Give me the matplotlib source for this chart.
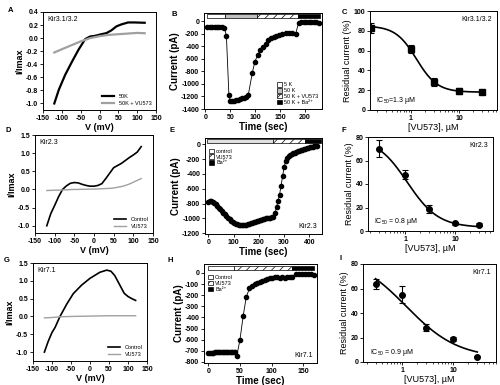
import matplotlib
matplotlib.use("Agg")
import matplotlib.pyplot as plt
import numpy as np
from matplotlib.patches import Patch

plt.rcParams["font.family"] = ["Liberation Sans", "DejaVu Sans"]
plt.rcParams["mathtext.default"] = "regular"
plt.rcParams["axes.unicode_minus"] = False
plt.rcParams["hatch.linewidth"] = 0.5

# ---- I/V curves ----
v_a = [-120, -108, -91, -73, -56, -38, -25, -12, 5, 18, 31, 45, 58, 76, 93, 120]
a_50k = [-1.0, -0.79, -0.56, -0.36, -0.18, -0.015, 0.025, 0.035, 0.06, 0.076, 0.117, 0.18, 0.21, 0.24, 0.24, 0.235]
v_a2 = [-120, -100, -75, -50, -25, 0, 25, 50, 75, 100, 120]
a_vu = [-0.22, -0.17, -0.11, -0.05, 0.0, 0.03, 0.05, 0.06, 0.07, 0.08, 0.075]

v_d = [-120, -110, -100, -90, -80, -70, -60, -50, -40, -30, -20, -10, 0, 10, 20, 30, 40, 50, 60, 70, 80, 90, 100, 110, 120]
d_ctrl = [-1.0, -0.67, -0.44, -0.2, 0.0, 0.1, 0.17, 0.19, 0.18, 0.14, 0.11, 0.09, 0.09, 0.11, 0.16, 0.3, 0.45, 0.6, 0.66, 0.72, 0.8, 0.88, 0.95, 1.03, 1.18]
d_vu = [-0.03, -0.025, -0.02, -0.02, -0.015, -0.01, -0.005, 0.0, 0.0, 0.005, 0.005, 0.01, 0.01, 0.015, 0.02, 0.025, 0.03, 0.04, 0.06, 0.08, 0.11, 0.15, 0.2, 0.25, 0.3]

v_g = [-120, -110, -100, -92, -79, -61, -44, -22, 0, 26, 44, 55, 65, 80, 90, 100, 110, 120]
g_ctrl = [-1.0, -0.7, -0.45, -0.31, 0.0, 0.35, 0.64, 0.88, 1.07, 1.24, 1.3, 1.27, 1.15, 0.85, 0.65, 0.56, 0.5, 0.45]
v_g2 = [-120, -100, -80, -50, 0, 50, 120]
g_vu = [-0.04, -0.03, -0.01, 0.0, 0.01, 0.02, 0.02]

# ---- time courses ----
t_b = [4, 9, 14, 19, 24, 28, 34, 38, 42, 47, 50, 54, 58, 62, 66, 70, 74, 78, 82, 86, 94, 99, 105, 110, 115,
       121, 126, 132, 137, 142, 148, 154, 161, 168, 174, 181, 187, 192, 197, 202, 207, 212, 217, 222, 227]
i_b = [-90, -90, -95, -95, -100, -100, -95, -105, -235, -1180, -1270, -1275, -1265, -1260, -1250, -1240, -1230,
       -1220, -1205, -1175, -825, -650, -535, -465, -410, -360, -305, -270, -255, -235, -215, -200, -195, -190,
       -190, -205, -25, -20, -15, -10, -10, -10, -15, -20, -22]
bars_b = [3, 39, 103, 185, 230]

t_e = list(range(0, 433, 6))
i_e = [-780, -765, -760, -775, -790, -810, -830, -855, -875, -900, -925, -945, -970, -990, -1010, -1030, -1045,
       -1060, -1070, -1080, -1088, -1092, -1095, -1092, -1088, -1085, -1080, -1072, -1065, -1058, -1050, -1042,
       -1035, -1028, -1022, -1015, -1010, -1005, -1000, -998, -993, -988, -982, -975, -930, -850, -760, -680,
       -560, -430, -310, -230, -185, -160, -145, -132, -122, -112, -103, -95, -88, -82, -75, -68, -60, -53, -47,
       -40, -35, -30, -27, -24, -22]
bars_e = [-7, 257, 383, 445]

t_h = [0, 2.5, 5, 7.5, 10, 12.5, 15, 17.5, 20, 22.5, 25, 27.5, 30, 32.5, 35, 37.5, 40, 42.5, 45, 50, 55, 60, 65,
       69, 73, 77, 81, 85, 89, 93, 97, 101, 105, 109, 113, 117, 121, 125, 129, 133, 138, 143, 148, 153, 158, 163, 168]
i_h = [-718, -718, -717, -716, -715, -714, -713, -712, -711, -710, -710, -709, -709, -708, -708, -708, -709, -710,
       -745, -600, -390, -215, -140, -115, -100, -88, -78, -70, -62, -55, -48, -43, -40, -40, -45, -40, -42, -40,
       -40, -38, -10, -10, -12, -12, -12, -13, -15]
bars_h = [-1, 41, 133, 167]

# ---- dose response ----
conc_c = [0.15, 1, 3, 10, 30]
res_c = [83, 62, 28, 19.5, 18.5]
err_c = [5, 4, 4, 3, 1.5]
fit_c = dict(top=85, bottom=18, ic50=1.3, n=2.0)

conc_f = [0.3, 1, 3, 10, 30]
res_f = [70, 48, 19, 6.5, 5.5]
err_f = [7.4, 4, 3.5, 1, 1]
fit_f = dict(top=80, bottom=3, ic50=1.1, n=1.4)

conc_i = [0.3, 1, 3, 10, 30]
res_i = [64, 55, 28, 18.6, 4.4]
err_i = [4, 7, 3, 1.5, 0.5]
fit_i = dict(top=88, bottom=3, ic50=1.2, n=0.85)

W, H = 500, 385
fig = plt.figure(figsize=(W / 100, H / 100), dpi=100)


def make_ax(l, r, t, b):
    ax = fig.add_axes([l / W, 1 - b / H, (r - l) / W, (b - t) / H])
    ax.tick_params(labelsize=5, length=2, width=0.6, pad=1.5)
    for s in ax.spines.values():
        s.set_linewidth(0.7)
    return ax


def bold_ticks(ax):
    for lab in ax.get_xticklabels() + ax.get_yticklabels():
        lab.set_fontweight("bold")


def panel_letter(x, y, s):
    fig.text(x / W, 1 - y / H, s, fontsize=5.5, fontweight="bold", ha="left", va="center")


def iv_panel(ax, v1, y1, v2, y2, labels, name, ylim, yticks, lw1, lw2):
    ax.plot(v1, y1, color="black", lw=lw1, label=labels[0])
    ax.plot(v2, y2, color="#a0a0a0", lw=lw2, label=labels[1])
    ax.set_xlim(-150, 150)
    ax.set_xticks([-150, -100, -50, 0, 50, 100, 150])
    ax.set_ylim(*ylim)
    ax.set_yticks(yticks)
    ax.yaxis.set_major_formatter(matplotlib.ticker.FormatStrFormatter("%.1f"))
    ax.set_xlabel("V (mV)", fontsize=6.5, fontweight="bold", labelpad=0.5)
    ax.set_ylabel("I/Imax", fontsize=6.5, fontweight="bold", labelpad=1)
    ax.text(0.04, 0.96, name, transform=ax.transAxes, fontsize=5, va="top")
    ax.legend(loc="lower right", fontsize=4, frameon=False, handlelength=2.2, borderpad=0.3,
              labelspacing=0.3)
    bold_ticks(ax)


def time_bars(ax, edges, styles, y0, y1):
    for k, st in enumerate(styles):
        ax.axvspan(edges[k], edges[k + 1], ymin=y0, ymax=y1, lw=0.5, edgecolor="black", **st)


def time_panel(ax, t, cur, xlim, ylim, yticks, xticks):
    ax.plot(t, cur, color="black", lw=0.6, marker="o", ms=3, mec="black", mfc="black")
    ax.set_xlim(*xlim)
    ax.set_ylim(*ylim)
    ax.set_yticks(yticks)
    ax.set_xticks(xticks)
    ax.set_xlabel("Time (sec)", fontsize=7, fontweight="bold", labelpad=0.5)
    ax.set_ylabel("Current (pA)", fontsize=7, fontweight="bold", labelpad=1)
    bold_ticks(ax)


def hill(x, p):
    return p["bottom"] + (p["top"] - p["bottom"]) / (1 + (x / p["ic50"]) ** p["n"])


def dose_panel(ax, conc, res, err, fit, marker, xlim, ylim, yticks, name, ic_text):
    xs = np.logspace(np.log10(conc[0]), np.log10(conc[-1]), 200)
    ax.plot(xs, hill(xs, fit), color="black", lw=1.2)
    ax.errorbar(conc, res, yerr=err, fmt=marker, color="black", ms=4, capsize=2.5, elinewidth=0.8,
                capthick=0.8)
    ax.set_xscale("log")
    ax.set_xlim(*xlim)
    ax.set_ylim(*ylim)
    ax.set_xticks([1, 10])
    ax.set_xticklabels(["1", "10"])
    ax.tick_params(which="minor", length=1.2, width=0.5)
    ax.set_yticks(yticks)
    ax.set_xlabel("[VU573], µM", fontsize=6.5, labelpad=0.5)
    ax.set_ylabel("Residual current (%)", fontsize=6.5, labelpad=1)
    ax.text(0.96, 0.95, name, transform=ax.transAxes, fontsize=5, ha="right", va="top")
    ax.text(0.05, 0.04, ic_text, transform=ax.transAxes, fontsize=5, ha="left", va="bottom")
    bold_ticks(ax)


# A
ax = make_ax(43, 156, 12, 110)
iv_panel(ax, v_a, a_50k, v_a2, a_vu, ["50K", "50K + VU573"], "Kir3.1/3.2", (-1.1, 0.4),
         [-1.0, -0.8, -0.6, -0.4, -0.2, 0.0, 0.2, 0.4], 1.6, 1.6)
panel_letter(8, 10, "A")

# B
ax = make_ax(204, 322, 13, 109)
time_panel(ax, t_b, i_b, (-3, 234), (-1400, 130), list(range(-1400, 1, 200)), [0, 50, 100, 150, 200])
time_bars(ax, bars_b, [dict(facecolor="white"), dict(facecolor="#c0c0c0"),
                       dict(facecolor="white", hatch="////"), dict(facecolor="black")], 0.945, 0.99)
hb = [Patch(facecolor="white", edgecolor="black", lw=0.5, label="5 K"),
      Patch(facecolor="#c0c0c0", edgecolor="black", lw=0.5, label="50 K"),
      Patch(facecolor="white", edgecolor="black", hatch="////", lw=0.5, label="50 K + VU573"),
      Patch(facecolor="black", edgecolor="black", lw=0.5, label="50 K + Ba²⁺")]
ax.legend(handles=hb, loc="lower right", fontsize=4, frameon=False, handlelength=1.0, handleheight=0.8,
          handletextpad=0.3, labelspacing=0.15, borderpad=0.2)
panel_letter(172, 14, "B")

# C
ax = make_ax(370, 497, 11, 110)
dose_panel(ax, conc_c, res_c, err_c, fit_c, "s", (0.14, 62), (0, 100), [0, 20, 40, 60, 80, 100],
           "Kir3.1/3.2", "IC$_{50}$=1.3 µM")
panel_letter(342, 12, "C")

# D
ax = make_ax(35, 153, 135, 233)
iv_panel(ax, v_d, d_ctrl, v_d, d_vu, ["Control", "VU573"], "Kir2.3", (-1.2, 1.5),
         [-1.0, -0.5, 0.0, 0.5, 1.0, 1.5], 1.2, 1.0)
panel_letter(6, 131, "D")

# E
ax = make_ax(205, 322, 138, 234)
time_panel(ax, t_e, i_e, (-13, 450), (-1210, 85), list(range(-1200, 1, 200)), [0, 100, 200, 300, 400])
time_bars(ax, bars_e, [dict(facecolor="#e0e0e0"), dict(facecolor="white", hatch="////"),
                       dict(facecolor="black")], 0.945, 0.985)
he = [Patch(facecolor="white", edgecolor="black", lw=0.5, label="control"),
      Patch(facecolor="white", edgecolor="black", hatch="////", lw=0.5, label="VU573"),
      Patch(facecolor="black", edgecolor="black", lw=0.5, label="Ba²⁺")]
ax.legend(handles=he, loc="upper left", bbox_to_anchor=(0.0, 0.93), fontsize=4, frameon=False,
          handlelength=1.0, handleheight=0.8, handletextpad=0.3, labelspacing=0.15, borderpad=0.2)
ax.text(0.96, 0.04, "Kir2.3", transform=ax.transAxes, fontsize=5, ha="right", va="bottom")
panel_letter(170, 131, "E")

# F
ax = make_ax(368, 493, 137, 231)
dose_panel(ax, conc_f, res_f, err_f, fit_f, "o", (0.18, 57), (0, 80), [0, 20, 40, 60, 80],
           "Kir2.3", "IC$_{50}$ = 0.8 µM")
panel_letter(342, 130, "F")

# G
ax = make_ax(33, 147, 263, 361)
iv_panel(ax, v_g, g_ctrl, v_g2, g_vu, ["Control", "VU573"], "Kir7.1", (-1.25, 1.5),
         [-1.0, -0.5, 0.0, 0.5, 1.0, 1.5], 1.2, 1.0)
panel_letter(4, 261, "G")

# H
ax = make_ax(204, 317, 264, 363)
time_panel(ax, t_h, i_h, (-7, 172), (-810, 80), list(range(-800, 1, 100)), [0, 50, 100, 150])
time_bars(ax, bars_h, [dict(facecolor="white"), dict(facecolor="white", hatch="////"),
                       dict(facecolor="black")], 0.94, 0.975)
hh = [Patch(facecolor="white", edgecolor="black", lw=0.5, label="Control"),
      Patch(facecolor="white", edgecolor="black", hatch="////", lw=0.5, label="VU573"),
      Patch(facecolor="black", edgecolor="black", lw=0.5, label="Ba²⁺")]
ax.legend(handles=hh, loc="upper left", bbox_to_anchor=(0.0, 0.93), fontsize=4, frameon=False,
          handlelength=1.0, handleheight=0.8, handletextpad=0.3, labelspacing=0.15, borderpad=0.2)
ax.text(0.96, 0.04, "Kir7.1", transform=ax.transAxes, fontsize=5, ha="right", va="bottom")
panel_letter(168, 261, "H")

# I
ax = make_ax(363, 496, 264, 362)
dose_panel(ax, conc_i, res_i, err_i, fit_i, "o", (0.17, 70), (0, 80), [0, 20, 40, 60, 80],
           "Kir7.1", "IC$_{50}$ = 0.9 $\\mu$M")
panel_letter(340, 258, "I")

fig.savefig("out.png", dpi=100)
plt.close(fig)
